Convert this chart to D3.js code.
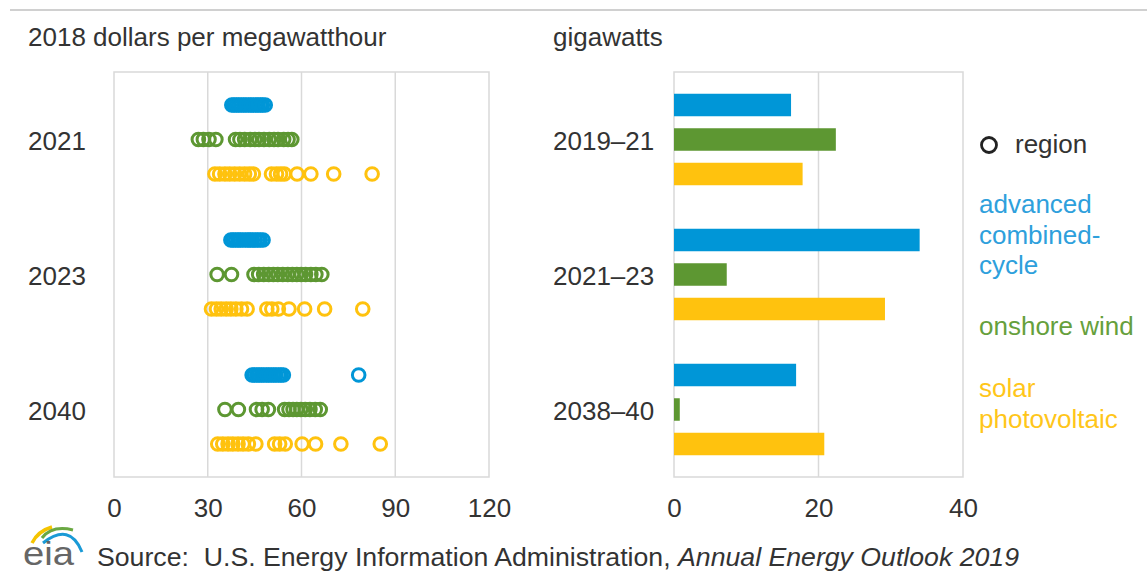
<!DOCTYPE html>
<html>
<head>
<meta charset="utf-8">
<script src="https://cdn.jsdelivr.net/npm/d3@7"></script>
<style>
  html, body { margin: 0; padding: 0; background: #fff; }
  svg { display: block; }
  text { font-family: "Liberation Sans", Arial, sans-serif; fill: #333; }
</style>
</head>
<body>
<svg id="chart" width="1147" height="579"></svg>
<script>
// ---------------- data ----------------
const years = ["2021", "2023", "2040"];
const periods = ["2019–21", "2021–23", "2038–40"];
const seriesNames = ["advanced combined-cycle", "onshore wind", "solar photovoltaic"];
const seriesColors = ["#0096d7", "#5d9732", "#ffc20e"];
const legendColors = ["#2ea0dc", "#66a03c", "#ffc61a"];

// levelized costs by region (2018 $/MWh), one array per year
const combinedCycleCosts = [
  [37.7, 38.4, 39.2, 39.9, 40.7, 41.5, 42.2, 43.1, 43.8, 44.6, 45.4, 46.1, 46.9, 47.5, 48.4],
  [37.4, 38.1, 38.9, 39.7, 40.4, 41.2, 42.1, 42.9, 43.6, 44.3, 45.2, 46, 46.8, 47.7],
  [44.2, 44.9, 45.7, 46.4, 47.2, 47.9, 48.8, 49.5, 50.3, 51.1, 51.8, 52.7, 53.4, 54.2, 78.3]
];
const windCosts = [
  [27, 28.6, 30.4, 32.6, 38.9, 40.3, 41.8, 43.6, 45.1, 46.4, 48, 49.7, 51.2, 52.5, 54.3, 55.7, 56.9],
  [33, 37.6, 44.8, 46.3, 47.9, 49.5, 51, 52.4, 54, 55.6, 57.1, 58.5, 59.9, 61.3, 63, 64.6, 66.5],
  [35.5, 39.8, 45.6, 47.4, 49.4, 54.6, 56, 57.3, 58.5, 59.8, 61.2, 62.7, 64.4, 66]
];
const solarCosts = [
  [32.3, 33.8, 35.5, 37, 38.6, 40.2, 41.8, 43.3, 44.6, 50.4, 52, 53.3, 54.5, 58.6, 63, 70.3, 82.6],
  [31.2, 32.8, 34.3, 35.9, 37.4, 39, 40.8, 42.6, 48.9, 50.5, 52.6, 56, 61, 67.4, 79.6],
  [33.2, 34.8, 36.5, 38, 39.7, 41.3, 43, 45.4, 51.4, 53, 54.8, 60.2, 64.5, 72.6, 85.2]
];

// capacity additions (gigawatts), one value per period
const combinedCycleGW = [16.2, 34.0, 16.9];
const windGW = [22.4, 7.3, 0.8];
const solarGW = [17.8, 29.2, 20.8];

const costTicks = [0, 30, 60, 90, 120];
const gwTicks = [0, 20, 40];

const leftTitle = "2018 dollars per megawatthour";
const rightTitle = "gigawatts";
const legendMarkerLabel = "region";
const legendLines = [["advanced", "combined-", "cycle"], ["onshore wind"], ["solar", "photovoltaic"]];
const sourceText = "Source:  U.S. Energy Information Administration, ";
const sourceItalic = "Annual Energy Outlook 2019";

// ---------------- layout ----------------
const svg = d3.select("#chart");
const plotTop = 72, plotBottom = 477;
const gridColor = "#d9d9d9";
const fontSize = 26;

// top rule
svg.append("line").attr("x1", 10).attr("x2", 1147).attr("y1", 10).attr("y2", 10)
  .attr("stroke", "#d0d0d0").attr("stroke-width", 2);

// shared vertical scales
const yGroupL = d3.scaleBand().domain(years).range([plotTop, plotBottom]);
const yGroupR = d3.scaleBand().domain(periods).range([plotTop, plotBottom]);
const ySub = d3.scalePoint().domain(seriesNames).range([-34.5, 34.5]);

// ---------------- left panel ----------------
const xL = d3.scaleLinear().domain([0, 120]).range([114, 489]);

svg.append("rect").attr("x", xL(0)).attr("y", plotTop).attr("width", xL(120) - xL(0)).attr("height", plotBottom - plotTop)
  .attr("fill", "none").attr("stroke", gridColor).attr("stroke-width", 1.5);
svg.append("g").selectAll("line").data(costTicks.slice(1, -1)).join("line")
  .attr("x1", d => xL(d)).attr("x2", d => xL(d)).attr("y1", plotTop).attr("y2", plotBottom)
  .attr("stroke", gridColor).attr("stroke-width", 1.5);

const axL = svg.append("g").attr("transform", `translate(0,${plotBottom})`)
  .call(d3.axisBottom(xL).tickValues(costTicks).tickSize(0).tickPadding(22));
axL.select(".domain").remove();
axL.selectAll("text").attr("font-size", fontSize).attr("font-family", "Liberation Sans, Arial, sans-serif").attr("fill", "#333");

svg.append("text").attr("x", 28).attr("y", 46).attr("font-size", fontSize).text(leftTitle);

svg.append("g").selectAll("text").data(years).join("text")
  .attr("x", 28).attr("y", d => yGroupL(d) + yGroupL.bandwidth() / 2 + 10)
  .attr("font-size", fontSize).text(d => d);

const costSeries = [combinedCycleCosts, windCosts, solarCosts];
const dots = [];
seriesNames.forEach((s, si) => {
  years.forEach((yr, yi) => {
    costSeries[si][yi].forEach(v => dots.push({ s, si, yr, v }));
  });
});
svg.append("g").selectAll("circle").data(dots).join("circle")
  .attr("cx", d => xL(d.v))
  .attr("cy", d => yGroupL(d.yr) + yGroupL.bandwidth() / 2 + ySub(d.s))
  .attr("r", 6.3)
  .attr("fill", "none")
  .attr("stroke", d => seriesColors[d.si])
  .attr("stroke-width", 3);

// ---------------- right panel ----------------
const xR = d3.scaleLinear().domain([0, 40]).range([674, 963]);

svg.append("rect").attr("x", xR(0)).attr("y", plotTop).attr("width", xR(40) - xR(0)).attr("height", plotBottom - plotTop)
  .attr("fill", "none").attr("stroke", gridColor).attr("stroke-width", 1.5);
svg.append("g").selectAll("line").data(gwTicks.slice(1, -1)).join("line")
  .attr("x1", d => xR(d)).attr("x2", d => xR(d)).attr("y1", plotTop).attr("y2", plotBottom)
  .attr("stroke", gridColor).attr("stroke-width", 1.5);

const axR = svg.append("g").attr("transform", `translate(0,${plotBottom})`)
  .call(d3.axisBottom(xR).tickValues(gwTicks).tickSize(0).tickPadding(22));
axR.select(".domain").remove();
axR.selectAll("text").attr("font-size", fontSize).attr("font-family", "Liberation Sans, Arial, sans-serif").attr("fill", "#333");

svg.append("text").attr("x", 553).attr("y", 46).attr("font-size", fontSize).text(rightTitle);

svg.append("g").selectAll("text").data(periods).join("text")
  .attr("x", 553).attr("y", d => yGroupR(d) + yGroupR.bandwidth() / 2 + 10)
  .attr("font-size", fontSize).text(d => d);

const gwSeries = [combinedCycleGW, windGW, solarGW];
const bars = [];
seriesNames.forEach((s, si) => {
  periods.forEach((p, pi) => bars.push({ s, si, p, v: gwSeries[si][pi] }));
});
const barH = 22.5;
svg.append("g").selectAll("rect").data(bars).join("rect")
  .attr("x", xR(0))
  .attr("y", d => yGroupR(d.p) + yGroupR.bandwidth() / 2 + ySub(d.s) - barH / 2)
  .attr("width", d => xR(d.v) - xR(0))
  .attr("height", barH)
  .attr("fill", d => seriesColors[d.si]);

// ---------------- legend ----------------
svg.append("circle").attr("cx", 989).attr("cy", 145).attr("r", 7.5)
  .attr("fill", "none").attr("stroke", "#222").attr("stroke-width", 2.8);
svg.append("text").attr("x", 1015).attr("y", 153).attr("font-size", fontSize).text(legendMarkerLabel);

const legendStarts = [213, 335, 397];
legendLines.forEach((lines, si) => {
  lines.forEach((ln, li) => {
    svg.append("text").attr("x", 979).attr("y", legendStarts[si] + li * 30.5)
      .attr("font-size", fontSize).style("fill", legendColors[si]).text(ln);
  });
});

// ---------------- source + logo ----------------
const src = svg.append("text").attr("x", 97).attr("y", 566).attr("font-size", fontSize)
  .style("white-space", "pre")
  .attr("textLength", 922).attr("lengthAdjust", "spacingAndGlyphs");
src.append("tspan").text(sourceText);
src.append("tspan").attr("font-style", "italic").text(sourceItalic);

const logo = svg.append("g");
logo.append("path").attr("d", "M32,543 Q38,531 52,527").attr("fill", "none").attr("stroke", "#f5c400").attr("stroke-width", 3.5);
logo.append("path").attr("d", "M42,538 Q52,525 73,530").attr("fill", "none").attr("stroke", "#6aa842").attr("stroke-width", 3);
logo.append("path").attr("d", "M43,543 Q70,522 82,552").attr("fill", "none").attr("stroke", "#1a9ad6").attr("stroke-width", 3);
logo.append("text").attr("x", 23).attr("y", 565).attr("font-size", 34)
  .attr("font-family", "Liberation Serif, 'DejaVu Serif', serif").style("fill", "#666")
  .attr("textLength", 51).attr("lengthAdjust", "spacingAndGlyphs").text("eia");
</script>
</body>
</html>
